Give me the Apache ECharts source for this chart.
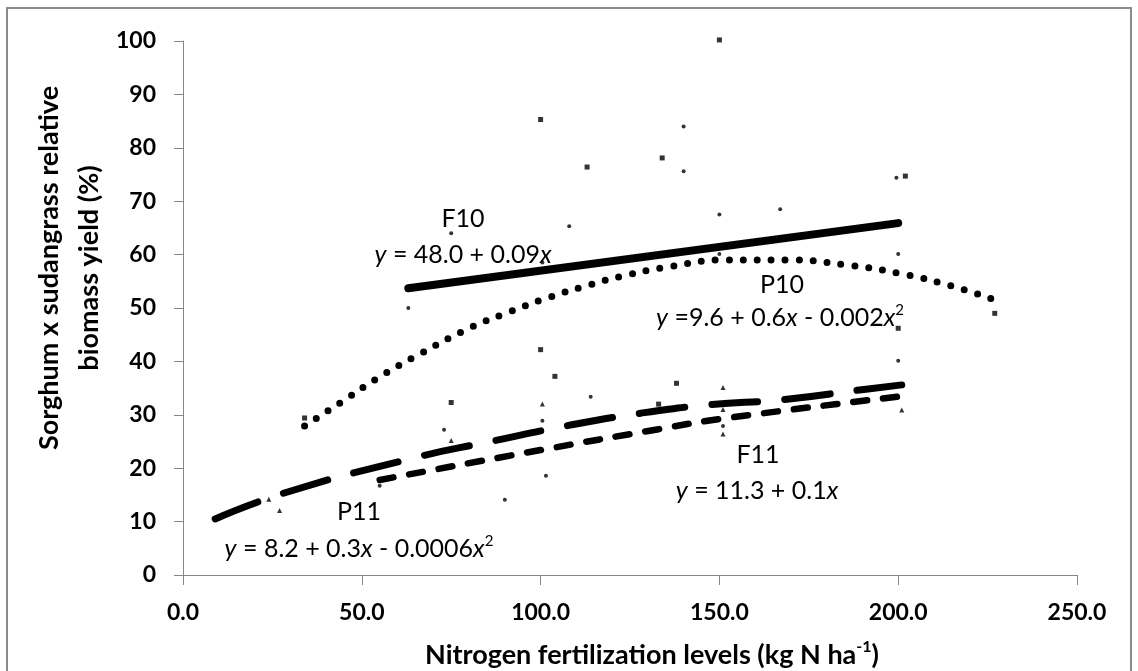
<!DOCTYPE html>
<html>
<head>
<meta charset="utf-8">
<script src="https://cdn.jsdelivr.net/npm/echarts@6/dist/echarts.min.js"></script>
<style>
  html, body { margin: 0; padding: 0; background: #fff; }
  #main { width: 1138px; height: 671px; }
</style>
</head>
<body>
<div id="main"></div>
<script>
// tick labels
var xTicks = [0, 50, 100, 150, 200, 250];
var yTicks = [0, 10, 20, 30, 40, 50, 60, 70, 80, 90, 100];

// observed points, by marker
var squarePts = [[150, 100.2], [100, 85.3], [113, 76.4], [134, 78.1], [202, 74.7], [227, 49], [200, 46.2],
  [34, 29.4], [75, 32.3], [100, 42.2], [104, 37.2], [138, 35.9], [133, 32]];
var dotPts = [[75, 64], [108, 65.3], [100.5, 58.5], [63, 50], [140, 84], [140, 75.6], [150, 67.5], [167, 68.5],
  [199.5, 74.4], [200, 60.1], [150, 60.1], [200, 40.1], [73, 27.2], [114, 33.4], [101.5, 18.6], [90, 14.1],
  [100.5, 28.9], [151, 27.9], [55, 16.7]];
var trianglePts = [[27, 12.1], [24, 14.2], [100.5, 32], [75, 25.2], [151, 35.1], [151, 31], [151, 26.4], [201, 30.9]];

// fitted curves
var f10Line = [[63, 53.7], [200, 65.9]];
var p10Curve = [[34, 27.9], [45, 32.7], [55, 37.1], [66, 41.3], [80, 46.2], [91, 49.2], [102, 51.9], [113, 54.2],
  [123, 56.0], [135, 57.6], [152, 59.0], [169, 59.0], [185, 58.1], [201, 56.4], [214, 54.3], [227, 51.5]];
var p11Curve = [[9, 10.5], [29, 15.5], [65, 22], [86, 25], [107, 27.9], [128, 30.3], [147.5, 31.9], [167, 32.8],
  [191, 34.8], [201, 35.6]];
var f11Line = [[55, 17.8], [100, 23.4], [133, 27.3], [150, 29.2], [200, 33.4]];

var FONT = 'Lato';
var myChart = echarts.init(document.getElementById('main'));

var eqRich = {
  i: { fontFamily: FONT, fontSize: 25, fontStyle: 'italic', color: '#000' },
  n: { fontFamily: FONT, fontSize: 25, color: '#000' },
  s: { fontFamily: FONT, fontSize: 15, color: '#000', verticalAlign: 'top', lineHeight: 30 }
};

function label(text, x, y) {
  return {
    type: 'text', x: x, y: y,
    style: { text: text, font: '25px ' + FONT, fill: '#000', align: 'center', verticalAlign: 'middle' }
  };
}
function eq(parts, x, y) {
  return {
    type: 'text', x: x, y: y,
    style: { text: parts, rich: eqRich, align: 'center', verticalAlign: 'middle', lineHeight: 30 }
  };
}

var gray = '#868686';

myChart.setOption({
  animation: false,
  grid: { left: 183, right: 61, top: 41, bottom: 96 },
  xAxis: {
    type: 'value', min: 0, max: 250, interval: 50,
    axisLine: { lineStyle: { color: gray, width: 1 } },
    axisTick: { length: 10, lineStyle: { color: gray } },
    splitLine: { show: false },
    axisLabel: {
      margin: 26, color: '#000', fontFamily: FONT, fontWeight: 'bold', fontSize: 23,
      formatter: function (v) { return xTicks.indexOf(v) >= 0 ? v.toFixed(1) : ''; }
    }
  },
  yAxis: {
    type: 'value', min: 0, max: 100, interval: 10,
    axisLine: { show: true, lineStyle: { color: gray, width: 1 } },
    axisTick: { show: true, length: 9, lineStyle: { color: gray } },
    splitLine: { show: false },
    axisLabel: {
      margin: 27, color: '#000', fontFamily: FONT, fontWeight: 'bold', fontSize: 23,
      formatter: function (v) { return yTicks.indexOf(v) >= 0 ? String(v) : ''; }
    }
  },
  graphic: [
    { type: 'rect', shape: { x: 7, y: 8, width: 1124, height: 680 }, style: { fill: 'none', stroke: '#8c8c8c', lineWidth: 2 }, z: -1 },
    {
      type: 'text', x: 652, y: 655,
      style: {
        text: '{t|Nitrogen fertilization levels (kg N ha}{s|-1}{t|)}',
        rich: {
          t: { fontFamily: FONT, fontSize: 27, fontWeight: 'bold', color: '#000' },
          s: { fontFamily: FONT, fontSize: 16, fontWeight: 'bold', color: '#000', verticalAlign: 'top', lineHeight: 32 }
        },
        align: 'center', verticalAlign: 'middle', lineHeight: 32
      }
    },
    {
      type: 'text', x: 69, y: 268, rotation: Math.PI / 2,
      style: {
        text: 'Sorghum x sudangrass relative\nbiomass yield (%)',
        font: 'bold 27px ' + FONT, fill: '#000', align: 'center', verticalAlign: 'middle', lineHeight: 40
      }
    },
    label('F10', 463, 219),
    eq('{i|y}{n| = 48.0 + 0.09}{i|x}', 463, 255),
    label('P10', 782, 285),
    eq('{i|y}{n| =9.6 + 0.6}{i|x}{n| - 0.002}{i|x}{s|2}', 780, 318),
    label('F11', 758, 455),
    eq('{i|y}{n| = 11.3 + 0.1}{i|x}', 757, 491),
    label('P11', 359, 512),
    eq('{i|y}{n| = 8.2 + 0.3}{i|x}{n| - 0.0006}{i|x}{s|2}', 359, 549)
  ],
  series: [
    { name: 'F10 fit', type: 'line', data: f10Line, showSymbol: false, z: 3,
      lineStyle: { color: '#000', width: 8, cap: 'round' } },
    { name: 'P10 fit', type: 'line', data: p10Curve, smooth: true, showSymbol: false, z: 3,
      lineStyle: { color: '#000', width: 7, type: [0, 14], cap: 'round' } },
    { name: 'P11 fit', type: 'line', data: p11Curve, smooth: true, showSymbol: false, z: 3,
      lineStyle: { color: '#000', width: 7, type: [46, 27], cap: 'round' } },
    { name: 'F11 fit', type: 'line', data: f11Line, smooth: true, showSymbol: false, z: 3,
      lineStyle: { color: '#000', width: 6.5, type: [14, 16], cap: 'round' } },
    { name: 'squares', type: 'scatter', data: squarePts, symbol: 'rect', symbolSize: 5, clip: false,
      itemStyle: { color: '#000' }, z: 4 },
    { name: 'dots', type: 'scatter', data: dotPts, symbol: 'circle', symbolSize: 4, clip: false,
      itemStyle: { color: '#000' }, z: 4 },
    { name: 'triangles', type: 'scatter', data: trianglePts, symbol: 'triangle', symbolSize: 5, clip: false,
      itemStyle: { color: '#000' }, z: 4 }
  ]
});
</script>
</body>
</html>
